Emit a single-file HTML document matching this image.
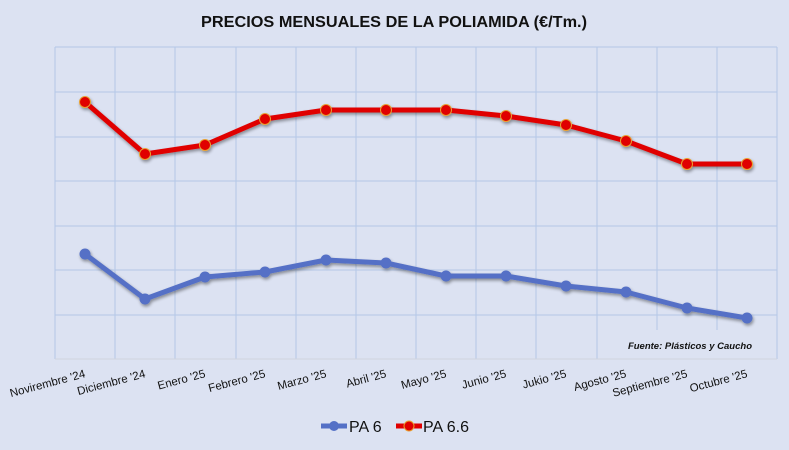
<!DOCTYPE html>
<html><head><meta charset="utf-8"><style>
html,body{margin:0;padding:0;background:#dce2f2;}
svg{display:block;font-family:"Liberation Sans",sans-serif;}
</style></head><body>
<svg width="789" height="450" viewBox="0 0 789 450">
<rect width="789" height="450" fill="#dce2f2"/>
<defs><filter id="sh" x="-20%" y="-20%" width="140%" height="140%"><feGaussianBlur in="SourceAlpha" stdDeviation="1.5"/><feOffset dx="1" dy="2"/><feComponentTransfer><feFuncA type="linear" slope="0.4"/></feComponentTransfer><feMerge><feMergeNode/><feMergeNode in="SourceGraphic"/></feMerge></filter></defs>
<text x="394" y="27" text-anchor="middle" font-size="16" font-weight="bold" fill="#111" textLength="386" lengthAdjust="spacingAndGlyphs">PRECIOS MENSUALES DE LA POLIAMIDA (€/Tm.)</text>
<g stroke="#b4c7e7" stroke-width="1">
<line x1="55" y1="47" x2="777" y2="47"/><line x1="55" y1="92" x2="777" y2="92"/><line x1="55" y1="137" x2="777" y2="137"/><line x1="55" y1="181" x2="777" y2="181"/><line x1="55" y1="226" x2="777" y2="226"/><line x1="55" y1="270" x2="777" y2="270"/><line x1="55" y1="315" x2="777" y2="315"/>
<line x1="55" y1="47" x2="55" y2="359"/><line x1="115" y1="47" x2="115" y2="359"/><line x1="175" y1="47" x2="175" y2="359"/><line x1="236" y1="47" x2="236" y2="359"/><line x1="296" y1="47" x2="296" y2="359"/><line x1="356" y1="47" x2="356" y2="359"/><line x1="416" y1="47" x2="416" y2="359"/><line x1="476" y1="47" x2="476" y2="359"/><line x1="536" y1="47" x2="536" y2="359"/><line x1="597" y1="47" x2="597" y2="359"/><line x1="657" y1="47" x2="657" y2="330"/><line x1="717" y1="47" x2="717" y2="330"/><line x1="777" y1="47" x2="777" y2="359"/>
</g>
<line x1="55" y1="359" x2="777" y2="359" stroke="#d0d4de" stroke-width="1"/>
<g filter="url(#sh)">
<polyline fill="none" stroke="#e00000" stroke-width="5" stroke-linejoin="round" points="85,102 145,154 205,145 265,119 326,110 386,110 446,110 506,116 566,125 626,141 687,164 747,164"/>
<g fill="#e00000" stroke="#e8a030" stroke-width="1">
<circle cx="85" cy="102" r="5.5"/><circle cx="145" cy="154" r="5.5"/><circle cx="205" cy="145" r="5.5"/><circle cx="265" cy="119" r="5.5"/><circle cx="326" cy="110" r="5.5"/><circle cx="386" cy="110" r="5.5"/><circle cx="446" cy="110" r="5.5"/><circle cx="506" cy="116" r="5.5"/><circle cx="566" cy="125" r="5.5"/><circle cx="626" cy="141" r="5.5"/><circle cx="687" cy="164" r="5.5"/><circle cx="747" cy="164" r="5.5"/>
</g>
<polyline fill="none" stroke="#5470c6" stroke-width="5" stroke-linejoin="round" points="85,254 145,299 205,277 265,272 326,260 386,263 446,276 506,276 566,286 626,292 687,308 747,318"/>
<g fill="#5470c6">
<circle cx="85" cy="254" r="5.5"/><circle cx="145" cy="299" r="5.5"/><circle cx="205" cy="277" r="5.5"/><circle cx="265" cy="272" r="5.5"/><circle cx="326" cy="260" r="5.5"/><circle cx="386" cy="263" r="5.5"/><circle cx="446" cy="276" r="5.5"/><circle cx="506" cy="276" r="5.5"/><circle cx="566" cy="286" r="5.5"/><circle cx="626" cy="292" r="5.5"/><circle cx="687" cy="308" r="5.5"/><circle cx="747" cy="318" r="5.5"/>
</g>
</g>
<text x="752" y="349" text-anchor="end" font-size="9.5" font-weight="bold" font-style="italic" fill="#111">Fuente: Plásticos y Caucho</text>
<g font-size="11.5" fill="#111" text-anchor="end">
<text transform="translate(86,377) rotate(-15)">Novirembre '24</text>
<text transform="translate(146,377) rotate(-15)">Diciembre '24</text>
<text transform="translate(206,377) rotate(-15)">Enero '25</text>
<text transform="translate(266,377) rotate(-15)">Febrero '25</text>
<text transform="translate(327,377) rotate(-15)">Marzo '25</text>
<text transform="translate(387,377) rotate(-15)">Abril '25</text>
<text transform="translate(447,377) rotate(-15)">Mayo '25</text>
<text transform="translate(507,377) rotate(-15)">Junio '25</text>
<text transform="translate(567,377) rotate(-15)">Jukio '25</text>
<text transform="translate(627,377) rotate(-15)">Agosto '25</text>
<text transform="translate(688,377) rotate(-15)">Septiembre '25</text>
<text transform="translate(748,377) rotate(-15)">Octubre '25</text>
</g>
<line x1="321" y1="426" x2="347" y2="426" stroke="#5470c6" stroke-width="5"/>
<circle cx="334" cy="426" r="5" fill="#5470c6"/>
<text x="349" y="432" font-size="16" fill="#111">PA 6</text>
<line x1="396" y1="426" x2="422" y2="426" stroke="#e00000" stroke-width="5"/>
<circle cx="409" cy="426" r="5" fill="#e00000" stroke="#e8a030" stroke-width="1"/>
<text x="423" y="432" font-size="16" fill="#111">PA 6.6</text>
</svg>
</body></html>
